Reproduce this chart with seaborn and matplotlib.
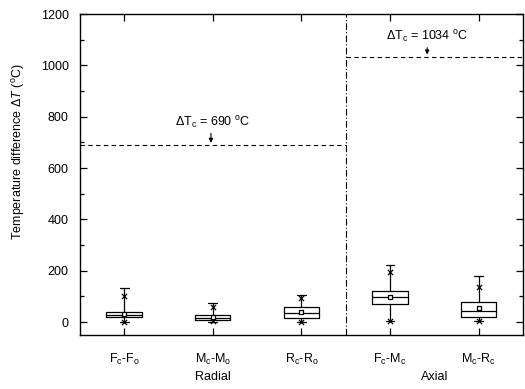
import numpy as np
import pandas as pd
import matplotlib
matplotlib.use("Agg")
import matplotlib.pyplot as plt
from matplotlib.ticker import MultipleLocator, FixedLocator
import matplotlib.transforms as mtransforms
import seaborn as sns

# Temperature-difference statistics per location pair
categories = [r"F$_\mathrm{c}$-F$_\mathrm{o}$", r"M$_\mathrm{c}$-M$_\mathrm{o}$",
              r"R$_\mathrm{c}$-R$_\mathrm{o}$", r"F$_\mathrm{c}$-M$_\mathrm{c}$",
              r"M$_\mathrm{c}$-R$_\mathrm{c}$"]
q1 = [18, 8, 14, 72, 21]
median = [28, 17, 37, 97, 45]
q3 = [39, 27, 58, 122, 78]
mean = [33, 19, 39, 98, 56]
whisker_low = [1, 2, 1, 4, 3]
whisker_high = [131, 76, 105, 222, 180]
pct1 = [2, 4, 2, 5, 5]
pct99 = [102, 57, 92, 195, 137]

groups = ["Radial", "Axial"]
critical_dt = [690, 1034]

sns.set_style("ticks")
plt.rcParams["font.family"] = ["Liberation Sans", "DejaVu Sans"]
plt.rcParams["mathtext.fontset"] = "custom"
plt.rcParams["mathtext.rm"] = "Liberation Sans"
plt.rcParams["mathtext.it"] = "Liberation Sans:italic"
plt.rcParams["mathtext.bf"] = "Liberation Sans:bold"
for key in ["text.color", "axes.labelcolor", "xtick.color", "ytick.color", "axes.edgecolor"]:
    plt.rcParams[key] = "black"

fig = plt.figure(figsize=(5.25, 3.89), dpi=100)
ax = fig.add_axes([0.152, 0.139, 0.844, 0.825])

positions = np.arange(1, len(categories) + 1)
stats = []
for i in range(len(categories)):
    stats.append(dict(med=median[i], q1=q1[i], q3=q3[i],
                      whislo=whisker_low[i], whishi=whisker_high[i],
                      mean=mean[i], fliers=[]))

lw = 0.9
ax.bxp(stats, positions=positions, widths=0.4, capwidths=0.1,
       showmeans=False, showfliers=False, patch_artist=False,
       boxprops=dict(color="black", linewidth=lw),
       medianprops=dict(color="black", linewidth=lw),
       whiskerprops=dict(color="black", linewidth=lw),
       capprops=dict(color="black", linewidth=lw))

# mean squares and 1% / 99% crosses
pts = pd.DataFrame({
    "x": np.concatenate([positions, positions, positions]),
    "y": np.concatenate([mean, pct1, pct99]),
    "kind": ["mean"] * 5 + ["pct"] * 10,
})
sns.scatterplot(data=pts[pts.kind == "mean"], x="x", y="y", marker="s", s=12,
                facecolor="white", edgecolor="black", linewidth=0.9, ax=ax, zorder=5)
sns.scatterplot(data=pts[pts.kind == "pct"], x="x", y="y", marker="x", s=14,
                color="black", linewidth=0.9, ax=ax, zorder=5)

# separator between radial and axial groups
ax.axvline(3.5, color="black", linewidth=0.8, linestyle=(0, (6, 2, 1, 2)))

# critical temperature differences
ax.plot([0.5, 3.5], [critical_dt[0]] * 2, color="black", linewidth=0.8, linestyle=(0, (4, 3)))
ax.plot([3.5, 5.5], [critical_dt[1]] * 2, color="black", linewidth=0.8, linestyle=(0, (4, 3)))

ax.annotate("", xy=(1.98, critical_dt[0] + 8), xytext=(1.98, critical_dt[0] + 45),
            arrowprops=dict(arrowstyle="-|>", color="black", lw=0.8,
                            mutation_scale=6, shrinkA=0, shrinkB=0))
ax.text(2.0, critical_dt[0] + 55,
        r"$\Delta$T$_\mathrm{c}$ = %d $^\mathrm{o}$C" % critical_dt[0],
        ha="center", va="bottom", fontsize=9)
ax.annotate("", xy=(4.42, critical_dt[1] + 8), xytext=(4.42, critical_dt[1] + 35),
            arrowprops=dict(arrowstyle="-|>", color="black", lw=0.8,
                            mutation_scale=6, shrinkA=0, shrinkB=0))
ax.text(4.42, critical_dt[1] + 45,
        r"$\Delta$T$_\mathrm{c}$ = %d $^\mathrm{o}$C" % critical_dt[1],
        ha="center", va="bottom", fontsize=9)

ax.set_xlim(0.5, 5.5)
ax.set_ylim(-50, 1200)
ax.xaxis.set_major_locator(FixedLocator(positions))
ax.set_xticklabels(categories)
ax.yaxis.set_major_locator(MultipleLocator(200))
ax.yaxis.set_minor_locator(MultipleLocator(100))
ax.tick_params(axis="both", which="both", direction="in", top=True, right=True,
               labelsize=9, width=0.9, color="black")
ax.tick_params(axis="both", which="major", length=5)
ax.tick_params(axis="both", which="minor", length=3)
ax.tick_params(axis="x", pad=12)
ax.tick_params(axis="y", pad=8)
for sp in ax.spines.values():
    sp.set_linewidth(1.0)
    sp.set_color("black")

ax.set_xlabel("")
ax.set_ylabel(r"Temperature difference $\mathit{\Delta T}$ ($^\mathrm{o}$C)", fontsize=9)
ax.yaxis.set_label_coords(-0.12, 0.57)

trans = mtransforms.blended_transform_factory(ax.transData, ax.transAxes)
ax.text(2, -0.13, groups[0], transform=trans, ha="center", va="center", fontsize=9)
ax.text(4.5, -0.13, groups[1], transform=trans, ha="center", va="center", fontsize=9)

fig.savefig("out.png", dpi=100)
